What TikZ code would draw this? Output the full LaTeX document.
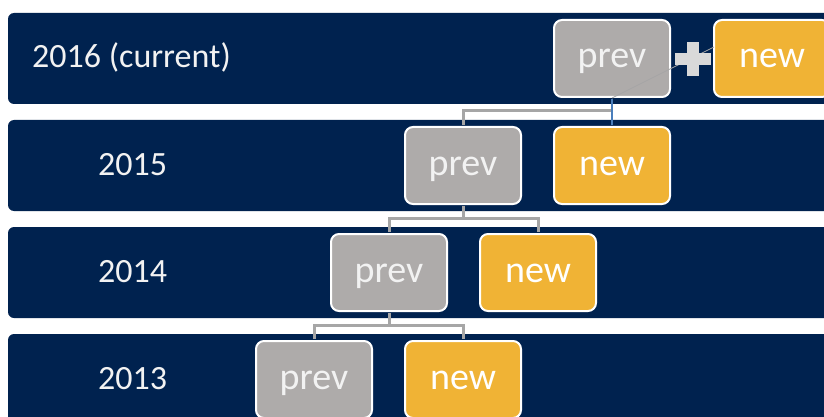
\documentclass[tikz,border=0pt]{standalone}
\usepackage{fontspec}
\setmainfont{Carlito}
\definecolor{navy}{HTML}{00224F}
\definecolor{boxgray}{HTML}{AEABAA}
\definecolor{boxyellow}{HTML}{F0B335}
\definecolor{conngray}{HTML}{A6A6A6}
\definecolor{plusgray}{HTML}{D9D9D9}
\definecolor{linkblue}{HTML}{4A7EBB}
\definecolor{offwhite}{HTML}{F2F2F2}
\tikzset{
  band/.style={fill=navy, draw=none, rounded corners=6pt},
  yearlbl/.style={anchor=west, inner sep=0pt, text=offwhite, text height=19pt, text depth=0pt, font=\fontsize{34}{36}\selectfont},
  basebox/.style={minimum width=116pt, minimum height=77pt, rounded corners=8pt, draw=white, line width=2pt, inner sep=0pt, text height=19pt, text depth=0pt, font=\fontsize{38}{40}\selectfont},
  prevbox/.style={basebox, fill=boxgray, text=offwhite},
  newbox/.style={basebox, fill=boxyellow, text=white},
  conn/.style={draw=conngray, line width=3pt},
  bluelink/.style={draw=linkblue, line width=2.4pt},
  thinlink/.style={draw=conngray, line width=0.8pt},
}
\begin{document}
\begin{tikzpicture}[x=1pt,y=-1pt]
\useasboundingbox (0,0) rectangle (824,417);
\clip (0,0) rectangle (824,417);
\fill[white] (0,0) rectangle (824,417);
% bands
\foreach \k in {0,1,2,3} {
  \path[band] (8,{13+107*\k}) rectangle (850,{104+107*\k});
}
% year labels
\node[yearlbl] (y16) at (32,58.5) {2016 (current)};
\node[yearlbl] (y15) at (98,165.5) {2015};
\node[yearlbl] (y14) at (98,272.5) {2014};
\node[yearlbl] (y13) at (98,379.5) {2013};
% coordinates for joints
\coordinate (j15) at (612,111);
\coordinate (b15) at (463,218);
\coordinate (b14) at (389,325);
\coordinate (d16) at (714,47);
% boxes
\node[prevbox] (p16) at (612,58.5) {prev};
\node[newbox]  (n16) at (772,58.5) {new};
\node[prevbox] (p15) at (463,165.5) {prev};
\node[newbox]  (n15) at (612,165.5) {new};
\node[prevbox] (p14) at (389,272.5) {prev};
\node[newbox]  (n14) at (538,272.5) {new};
\node[prevbox] (p13) at (314,379.5) {prev};
\node[newbox]  (n13) at (463,379.5) {new};
% connectors
\draw[conn] ([yshift=1pt]p15.north) |- (j15);
\draw[bluelink] ([yshift=-1pt]p16.south) -- ([yshift=1pt]n15.north);
\draw[conn] ([yshift=-1pt]p15.south) -- (b15);
\draw[conn] ([yshift=1pt]p14.north) |- (b15) -| ([yshift=1pt]n14.north);
\draw[conn] ([yshift=-1pt]p14.south) -- (b14);
\draw[conn] ([yshift=1pt]p13.north) |- (b14) -| ([yshift=1pt]n13.north);
% thin link and plus
\draw[thinlink] (p16.south) -- (d16);
\fill[plusgray] (675,53) rectangle (711,65);
\fill[plusgray] (687,42) rectangle (699,76);
\end{tikzpicture}
\end{document}
